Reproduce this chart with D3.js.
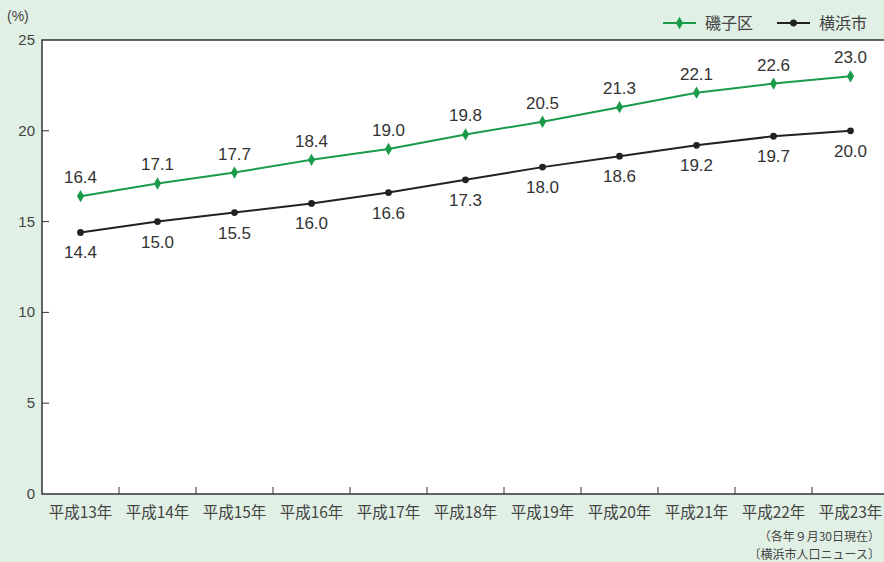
<!DOCTYPE html>
<html><head><meta charset="utf-8">
<script src="https://cdn.jsdelivr.net/npm/d3@7"></script>
<style>body{margin:0;background:#e1f0e5;}svg{display:block;font-family:"Noto Sans CJK JP","Noto Sans",sans-serif;}</style>
</head><body>
<script>
const categories = ["平成13年","平成14年","平成15年","平成16年","平成17年","平成18年","平成19年","平成20年","平成21年","平成22年","平成23年"];
const isogo = [16.4,17.1,17.7,18.4,19.0,19.8,20.5,21.3,22.1,22.6,23.0];
const yokohama = [14.4,15.0,15.5,16.0,16.6,17.3,18.0,18.6,19.2,19.7,20.0];
const yTicks = [0,5,10,15,20,25];
const seriesNames = ["磯子区","横浜市"];
const colors = ["#1a9b4b","#222222"];

const W=884,H=562;
const svg=d3.select("body").append("svg").attr("width",W).attr("height",H);
svg.append("rect").attr("width",W).attr("height",H).attr("fill","#e1f0e5");
const L=42,T=40,B=494,R=42+77*11;
const x=d3.scaleBand().domain(categories).range([L,R]);
const y=d3.scaleLinear().domain([0,25]).range([B,T]);
svg.append("rect").attr("x",L).attr("y",T).attr("width",R-L).attr("height",B-T).attr("fill","#fff").attr("stroke","#333").attr("stroke-width",1.5);
svg.selectAll(".yt").data(yTicks.filter(d=>d>0&&d<25)).enter().append("line")
 .attr("x1",L).attr("x2",L+7).attr("y1",d=>y(d)).attr("y2",d=>y(d)).attr("stroke","#333").attr("stroke-width",1);
svg.selectAll(".yl").data(yTicks).enter().append("text")
 .attr("x",L-7).attr("y",d=>y(d)+5).attr("text-anchor","end").attr("font-size",15).attr("fill","#444")
 .attr("font-family","Liberation Sans, Arial, sans-serif").text(d=>d);
svg.append("text").attr("x",7).attr("y",21).attr("font-size",14).attr("fill","#444").attr("font-family","Liberation Sans, Arial, sans-serif").text("(%)");
svg.selectAll(".xt").data(categories.slice(1)).enter().append("line")
 .attr("x1",d=>x(d)).attr("x2",d=>x(d)).attr("y1",B).attr("y2",B-7).attr("stroke","#333");
svg.selectAll(".xl").data(categories).enter().append("text")
 .attr("x",d=>x(d)+x.bandwidth()/2).attr("y",518).attr("text-anchor","middle").attr("font-size",15.5).attr("fill","#444").text(d=>d);
const series=[isogo,yokohama];
const line=d3.line().x((d,i)=>x(categories[i])+x.bandwidth()/2).y(d=>y(d));
series.forEach((s,k)=>{
  svg.append("path").datum(s).attr("d",line).attr("fill","none").attr("stroke",colors[k]).attr("stroke-width",2);
  const sym=d3.symbol().type(k===0?d3.symbolDiamond:d3.symbolCircle).size(k===0?44:36);
  svg.selectAll(".p"+k).data(s).enter().append("path").attr("d",sym)
   .attr("transform",(d,i)=>`translate(${x(categories[i])+x.bandwidth()/2},${y(d)})`).attr("fill",colors[k]);
  svg.selectAll(".l"+k).data(s).enter().append("text")
   .attr("x",(d,i)=>x(categories[i])+x.bandwidth()/2).attr("y",d=>k===0?y(d)-13:y(d)+26)
   .attr("text-anchor","middle").attr("font-size",17).attr("fill","#333")
   .attr("font-family","Liberation Sans, Arial, sans-serif").text(d=>d.toFixed(1));
});
const legX=[663,777];
seriesNames.forEach((n,k)=>{
  const g=svg.append("g");
  g.append("line").attr("x1",legX[k]).attr("x2",legX[k]+33).attr("y1",23).attr("y2",23).attr("stroke",colors[k]).attr("stroke-width",2);
  g.append("path").attr("d",d3.symbol().type(k===0?d3.symbolDiamond:d3.symbolCircle).size(k===0?44:36)())
   .attr("transform",`translate(${legX[k]+16.5},23)`).attr("fill",colors[k]);
  g.append("text").attr("x",legX[k]+42).attr("y",29).attr("font-size",16).attr("fill","#444").text(n);
});
svg.append("text").attr("x",880).attr("y",541).attr("text-anchor","end").attr("font-size",12).attr("fill","#444").text("（各年９月30日現在）");
svg.append("text").attr("x",880).attr("y",559).attr("text-anchor","end").attr("font-size",12).attr("fill","#444").text("〔横浜市人口ニュース〕");
</script>
</body></html>
